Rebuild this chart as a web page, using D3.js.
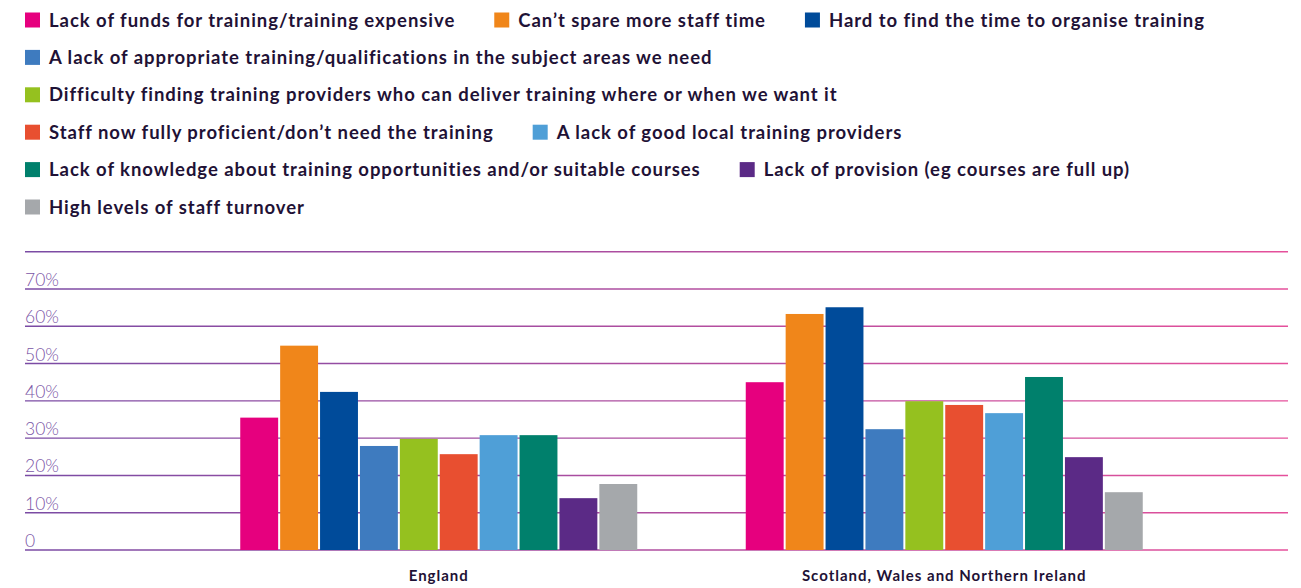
<!DOCTYPE html>
<html>
<head>
<meta charset="utf-8">
<script src="https://d3js.org/d3.v7.min.js"></script>
<style>
body {margin: 0; background: #fff;}
.legend text {font-family: Lato, sans-serif; font-weight: 700; font-size: 18.5px; letter-spacing: 0.95px; fill: #1f1236;}
.ylab {font-family: Lato, sans-serif; font-weight: 300; font-size: 17.5px; fill: #7a55a6;}
.xlab {font-family: Lato, sans-serif; font-weight: 700; font-size: 15px; letter-spacing: 1px; fill: #1f1236; text-anchor: middle;}
</style>
</head>
<body>
<svg width="1301" height="588"></svg>
<script>
// categories on the x axis
var groups = ["England", "Scotland, Wales and Northern Ireland"];

// series (barriers to training)
var series = [
  "Lack of funds for training/training expensive",
  "Can\u2019t spare more staff time",
  "Hard to find the time to organise training",
  "A lack of appropriate training/qualifications in the subject areas we need",
  "Difficulty finding training providers who can deliver training where or when we want it",
  "Staff now fully proficient/don\u2019t need the training",
  "A lack of good local training providers",
  "Lack of knowledge about training opportunities and/or suitable courses",
  "Lack of provision (eg courses are full up)",
  "High levels of staff turnover"
];

var colors = ["#e6007e", "#f0861a", "#004b9a", "#3e7bbf", "#95c11f",
              "#e84f30", "#4f9fd7", "#00806c", "#5b2a86", "#a5a8ab"];

// percentages, one per series
var england  = [35.5, 54.8, 42.4, 27.9, 29.8, 25.7, 30.8, 30.8, 13.9, 17.7];
var swni     = [45.0, 63.3, 65.1, 32.4, 39.9, 38.9, 36.7, 46.4, 24.9, 15.5];

var yTicks = [0, 10, 20, 30, 40, 50, 60, 70, 80];

// which series go on which legend row
var legendRows = [[0, 1, 2], [3], [4], [5, 6], [7, 8], [9]];

var svg = d3.select("svg");

var values = [england, swni];

var y = d3.scaleLinear().domain([0, 80]).range([550, 251.7]);

var x0 = d3.scaleBand().domain(groups).range([186, 1197]).padding(0);
var x1 = d3.scaleBand().domain(d3.range(series.length))
    .range([(x0.bandwidth() - 397) / 2, (x0.bandwidth() + 397) / 2])
    .paddingInner(0.05).paddingOuter(0);

// gradient for gridlines
var defs = svg.append("defs");
var grad = defs.append("linearGradient").attr("id", "gridGrad")
    .attr("gradientUnits", "userSpaceOnUse")
    .attr("x1", 25).attr("x2", 1288).attr("y1", 0).attr("y2", 0);
grad.append("stop").attr("offset", "0%").attr("stop-color", "#7a4ba4");
grad.append("stop").attr("offset", "100%").attr("stop-color", "#e5509b");

// grid
var grid = svg.append("g");
grid.selectAll("line").data(yTicks).enter().append("line")
    .attr("x1", 25).attr("x2", 1288)
    .attr("y1", function(d) { return y(d); })
    .attr("y2", function(d) { return y(d); })
    .attr("stroke", "url(#gridGrad)")
    .attr("stroke-width", 1.4);

grid.selectAll("text").data(yTicks.filter(function(d) { return d < 80; })).enter().append("text")
    .attr("class", "ylab")
    .attr("x", 25)
    .attr("y", function(d) { return y(d) - 3; })
    .text(function(d) { return d === 0 ? "0" : d + "%"; });

// bars
var g = svg.selectAll(".grp").data(groups).enter().append("g")
    .attr("class", "grp")
    .attr("transform", function(d) { return "translate(" + x0(d) + ",0)"; });

g.selectAll("rect").data(function(d, i) {
    return values[i].map(function(v, j) { return {s: j, v: v}; });
  }).enter().append("rect")
    .attr("x", function(d) { return x1(d.s); })
    .attr("width", x1.bandwidth())
    .attr("y", function(d) { return y(d.v); })
    .attr("height", function(d) { return y(0) - y(d.v); })
    .attr("fill", function(d) { return colors[d.s]; });

// x labels
svg.selectAll(".xlab").data(groups).enter().append("text")
    .attr("class", "xlab")
    .attr("x", function(d) { return x0(d) + x0.bandwidth() / 2; })
    .attr("y", 581)
    .text(function(d) { return d; });

// legend
var legend = svg.append("g").attr("class", "legend");
legendRows.forEach(function(row, r) {
  var cx = 25;
  var cy = 20 + r * 37.4;
  row.forEach(function(s) {
    legend.append("rect")
      .attr("x", cx).attr("y", cy - 7.5)
      .attr("width", 15).attr("height", 15)
      .attr("fill", colors[s]);
    var t = legend.append("text")
      .attr("x", cx + 24).attr("y", cy + 6.5)
      .text(series[s]);
    cx += 24 + t.node().getComputedTextLength() + 39;
  });
});
</script>
</body>
</html>
